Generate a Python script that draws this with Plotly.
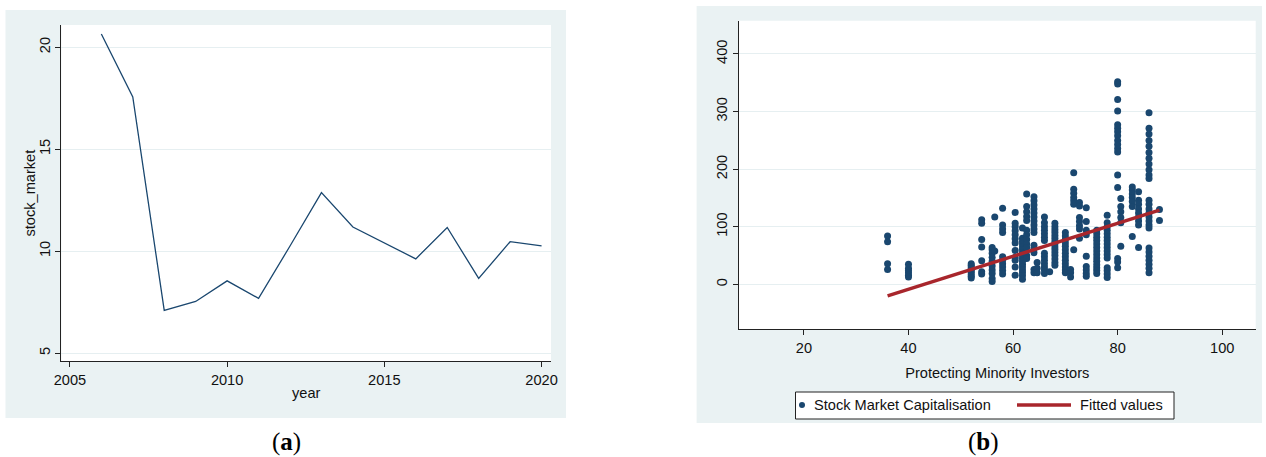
import plotly.graph_objects as go

W, H = 1266, 457

# Panel (a): yearly stock market series
years = [2006, 2007, 2008, 2009, 2010, 2011, 2012, 2013, 2014, 2015, 2016, 2017, 2018, 2019, 2020]
stock_market = [20.65, 17.56, 7.09, 7.53, 8.54, 7.68, 10.25, 12.87, 11.18, 10.42, 9.62, 11.16, 8.66, 10.46, 10.26]

# Panel (b): Protecting Minority Investors score vs Stock Market Capitalisation
investor_score = [
    36, 36, 36, 36,
    40, 40, 40, 40, 40, 40,
    52, 52, 52, 52, 52, 52, 52, 52, 52,
    54, 54, 54, 54, 54, 54, 54,
    56, 56, 56, 56, 56, 56, 56, 56, 56, 56,
    56.5, 56.5,
    58, 58, 58, 58, 58, 58, 58, 58, 58, 58,
    60.4, 60.4, 60.4, 60.4, 60.4, 60.4, 60.4, 60.4, 60.4, 60.4, 60.4, 60.4,
    61.8, 61.8, 61.8, 61.8, 61.8, 61.8, 61.8, 61.8, 61.8, 61.8, 61.8, 61.8, 61.8, 61.8, 61.8, 61.8,
    62.6, 62.6, 62.6, 62.6, 62.6, 62.6, 62.6, 62.6, 62.6, 62.6, 62.6, 62.6,
    64, 64, 64, 64, 64, 64, 64, 64, 64, 64, 64, 64, 64, 64, 64,
    64.6, 64.6, 64.6,
    66, 66, 66, 66, 66, 66, 66, 66, 66, 66, 66, 66, 66, 66,
    67,
    68, 68, 68, 68, 68, 68, 68, 68, 68, 68, 68, 68, 68, 68, 68,
    70, 70, 70, 70, 70, 70, 70, 70, 70, 70, 70, 70, 70,
    71, 71, 71,
    71.6, 71.6, 71.6, 71.6, 71.6, 71.6, 71.6,
    72.7, 72.7, 72.7, 72.7, 72.7, 72.7, 72.7,
    74, 74, 74, 74, 74, 74, 74, 74, 74,
    76, 76, 76, 76, 76, 76, 76, 76, 76, 76, 76, 76, 76, 76,
    78, 78, 78, 78, 78, 78, 78, 78, 78, 78, 78, 78, 78, 78, 78, 78,
    80, 80, 80, 80, 80, 80, 80, 80, 80, 80, 80, 80, 80, 80, 80, 80, 80,
    80.6, 80.6, 80.6, 80.6, 80.6, 80.6,
    82.8, 82.8, 82.8, 82.8, 82.8, 82.8, 82.8,
    84, 84, 84, 84, 84, 84, 84, 84, 84,
    86, 86, 86, 86, 86, 86, 86, 86, 86, 86, 86, 86, 86, 86, 86, 86, 86, 86, 86, 86, 86, 86, 86, 86, 86, 86,
    88, 88,
]
market_cap = [
    84, 74, 36, 26,
    35, 28, 24, 20, 16, 13,
    36, 33, 30, 27, 24, 21, 17, 14, 11,
    112, 106, 78, 65, 41, 22, 18,
    64, 60, 54, 47, 40, 32, 25, 19, 10, 5,
    117, 58,
    132, 103, 96, 90, 48, 42, 36, 30, 24, 18,
    125, 106, 100, 93, 86, 79, 72, 59, 47, 42, 30, 16,
    98, 80, 75, 70, 65, 60, 55, 50, 45, 40, 35, 30, 25, 20, 15, 9,
    157, 135, 126, 118, 111, 94, 86, 78, 70, 64, 50, 45,
    152, 145, 138, 131, 124, 117, 110, 103, 96, 90, 68, 62, 55, 26, 20,
    38, 28, 20,
    117, 107, 100, 94, 88, 82, 76, 54, 48, 42, 36, 30, 25, 19,
    22,
    106, 100, 95, 90, 85, 80, 75, 70, 65, 60, 55, 50, 44, 38, 33,
    90, 84, 78, 72, 66, 60, 54, 48, 42, 36, 30, 25, 20,
    26, 20, 13,
    194, 165, 158, 151, 145, 139, 60,
    142, 136, 116, 109, 102, 96, 80,
    133, 109, 94, 86, 49, 31, 25, 19, 14,
    94, 88, 82, 76, 70, 64, 58, 52, 46, 40, 34, 29, 24, 19,
    120, 107, 100, 94, 88, 82, 76, 70, 64, 58, 52, 46, 29, 24, 18, 12,
    352, 348, 321, 301, 277, 271, 265, 258, 250, 243, 236, 230, 190, 168, 45, 39, 29,
    149, 135, 126, 116, 107, 66,
    169, 164, 157, 151, 144, 135, 83,
    161, 146, 139, 131, 124, 117, 110, 103, 64,
    298, 271, 261, 250, 240, 229, 219, 209, 199, 190, 184, 146, 139, 131, 124, 117, 110, 103, 98, 63, 56, 49, 42, 35, 28, 20,
    130, 111,
]

# Linear fit endpoints
fit_score = [36, 88]
fit_values = [-20, 129]

a_xticks = [2005, 2010, 2015, 2020]
a_yticks = [5, 10, 15, 20]
b_xticks = [20, 40, 60, 80, 100]
b_yticks = [0, 100, 200, 300, 400]

NAVY = "#1a476f"
MAROON = "#a8262c"
PANEL_BG = "#eaf2f3"
GRID = "#e6eff1"
FONT = "Liberation Sans, Arial, sans-serif"
FS = 14.6


def fx(px):
    return px / W


def fy(py):
    return 1 - py / H


fig = go.Figure()

fig.add_trace(go.Scatter(
    x=years, y=stock_market, mode="lines",
    line=dict(color=NAVY, width=1.3),
    xaxis="x", yaxis="y", showlegend=False,
))

fig.add_trace(go.Scatter(
    x=investor_score, y=market_cap, mode="markers",
    marker=dict(color=NAVY, size=7, line=dict(width=0)),
    xaxis="x2", yaxis="y2", showlegend=False,
))

fig.add_trace(go.Scatter(
    x=fit_score, y=fit_values, mode="lines",
    line=dict(color=MAROON, width=3.5),
    xaxis="x2", yaxis="y2", showlegend=False,
))

axis_common = dict(
    showline=True, linecolor="#222", linewidth=1,
    ticks="outside", ticklen=5, tickcolor="#222", tickwidth=1,
    zeroline=False, automargin=False,
    tickfont=dict(family=FONT, size=FS, color="#111"),
    title_font=dict(family=FONT, size=FS, color="#111"),
)

fig.update_layout(
    width=W, height=H,
    margin=dict(l=0, r=0, t=0, b=0),
    paper_bgcolor="white",
    plot_bgcolor="rgba(0,0,0,0)",
    font=dict(family=FONT, size=FS, color="#111"),
    xaxis=dict(
        axis_common, domain=[fx(61.4), fx(551)], anchor="y",
        range=[2004.73, 2020.3], tickvals=a_xticks, showgrid=False,
        title=dict(text="year", standoff=1),
    ),
    yaxis=dict(
        axis_common, domain=[fy(361), fy(25)], anchor="x",
        range=[4.61, 21.09], tickvals=a_yticks, tickangle=-90,
        showgrid=True, gridcolor=GRID, gridwidth=1,
    ),
    xaxis2=dict(
        axis_common, domain=[fx(738.9), fx(1255.7)], anchor="y2",
        range=[7.57, 106.4], tickvals=b_xticks, showgrid=False,
        title=dict(text="Protecting Minority Investors", standoff=12),
    ),
    yaxis2=dict(
        axis_common, domain=[fy(329.3), fy(20.7)], anchor="x2",
        range=[-78, 457.8], tickvals=b_yticks, tickangle=-90,
        showgrid=True, gridcolor=GRID, gridwidth=1,
    ),
)

shapes = []
# Panel backgrounds and white plot regions
for (x0, x1, y0, y1), (px0, px1, py0, py1) in [
    ((5.5, 566, 10, 418), (61.4, 551, 25, 361)),
    ((696.6, 1262, 6, 423), (738.9, 1255.7, 20.7, 329.3)),
]:
    shapes.append(dict(type="rect", xref="paper", yref="paper", layer="below",
                       x0=fx(x0), x1=fx(x1), y0=fy(y1), y1=fy(y0),
                       fillcolor=PANEL_BG, line=dict(width=0)))
    shapes.append(dict(type="rect", xref="paper", yref="paper", layer="below",
                       x0=fx(px0), x1=fx(px1), y0=fy(py1), y1=fy(py0),
                       fillcolor="white", line=dict(width=0)))

# Legend box for panel (b)
shapes.append(dict(type="rect", xref="paper", yref="paper",
                   x0=fx(795.5), x1=fx(1174), y0=fy(419), y1=fy(392),
                   fillcolor="white", line=dict(color="#222", width=1)))
shapes.append(dict(type="circle", xref="paper", yref="paper",
                   x0=fx(799), x1=fx(805), y0=fy(408), y1=fy(402),
                   fillcolor=NAVY, line=dict(width=0)))
shapes.append(dict(type="line", xref="paper", yref="paper",
                   x0=fx(1017), x1=fx(1071), y0=fy(405), y1=fy(405),
                   line=dict(color=MAROON, width=3.5)))

annotations = [
    dict(text="stock_market", x=fx(29.5), y=fy(193), xref="paper", yref="paper",
         xanchor="center", yanchor="middle", textangle=-90, showarrow=False,
         font=dict(family=FONT, size=FS, color="#111")),
    dict(text="Stock Market Capitalisation", x=fx(812), y=fy(405), xref="paper", yref="paper",
         xanchor="left", yanchor="middle", showarrow=False,
         font=dict(family=FONT, size=FS, color="#111")),
    dict(text="Fitted values", x=fx(1078), y=fy(405), xref="paper", yref="paper",
         xanchor="left", yanchor="middle", showarrow=False,
         font=dict(family=FONT, size=FS, color="#111")),
    dict(text="(<b>a</b>)", x=fx(286), y=fy(442), xref="paper", yref="paper",
         xanchor="center", yanchor="middle", showarrow=False,
         font=dict(family="Liberation Serif, serif", size=25, color="#000")),
    dict(text="(<b>b</b>)", x=fx(983), y=fy(442), xref="paper", yref="paper",
         xanchor="center", yanchor="middle", showarrow=False,
         font=dict(family="Liberation Serif, serif", size=25, color="#000")),
]

fig.update_layout(shapes=shapes, annotations=annotations)

fig.write_html("out.html")
